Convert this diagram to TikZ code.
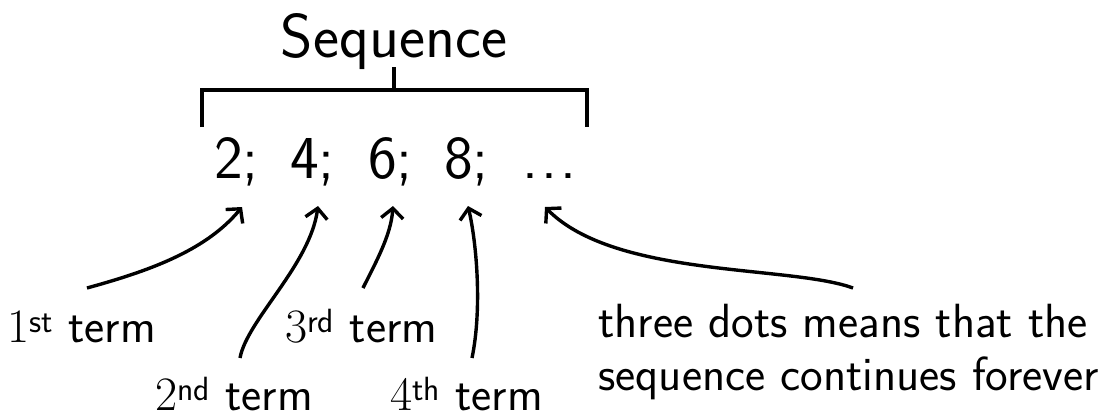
\documentclass[tikz,border=0pt]{standalone}
\usepackage{fontspec}
\usetikzlibrary{arrows.meta}
\newcommand\ordlab[2]{{\rmfamily #1}\textsuperscript{#2} term}
\begin{document}
\begin{tikzpicture}[x=1pt,y=-1pt,
  seqtitle/.style={font=\sffamily\fontsize{62}{70}\selectfont,inner sep=0pt,anchor=base},
  termnum/.style={font=\sffamily\fontsize{61}{70}\selectfont,inner sep=0pt,anchor=base west},
  lab/.style={font=\sffamily\fontsize{48}{53}\selectfont,inner sep=0pt,anchor=base west},
  bracketline/.style={line width=3.2pt},
  arr/.style={line width=3.4pt,-{Straight Barb[length=10pt,width=22pt]}}]
\useasboundingbox (0,0) rectangle (1116,418);
% title and bracket
\node[seqtitle] (title) at (394,57) {Sequence};
\draw[bracketline] (202,127) -- (202,90) -- (587,90) -- (587,127);
\draw[bracketline] (394,90) -- (394,67);
% terms
\node[termnum] (t1) at (214,178) {2;};
\node[termnum] (t2) at (290,178) {4;};
\node[termnum] (t3) at (368,178) {6;};
\node[termnum] (t4) at (444,178) {8;};
\node[termnum] (t5) at (522,178) {.\kern3pt.\kern3pt.};
% labels
\node[lab] (l1) at (7,342) {\ordlab{1}{st}};
\node[lab] (l2) at (155,410) {\ordlab{2}{nd}};
\node[lab] (l3) at (285,342) {\ordlab{3}{rd}};
\node[lab] (l4) at (390,410) {\ordlab{4}{th}};
\node[lab,align=left] (l5) at (598,390) {three dots means that the\\sequence continues forever};
% arrow ends
\coordinate (s1) at (87,288);  \coordinate (a1) at (242,207);
\coordinate (s2) at (240,358); \coordinate (a2) at (318,206);
\coordinate (s3) at (363,288); \coordinate (a3) at (393,206);
\coordinate (s4) at (472,358); \coordinate (a4) at (468,206);
\coordinate (s5) at (853,288); \coordinate (a5) at (545,207);
\draw[arr] (s1) .. controls (145,272) and (205,252) .. (a1);
\draw[arr] (s2) .. controls (247,320) and (310,265) .. (a2);
\draw[arr] (s3) .. controls (376,262) and (391,235) .. (a3);
\draw[arr] (s4) .. controls (482,310) and (477,245) .. (a4);
\draw[arr] (s5) .. controls (790,265) and (615,278) .. (a5);
\end{tikzpicture}
\end{document}
